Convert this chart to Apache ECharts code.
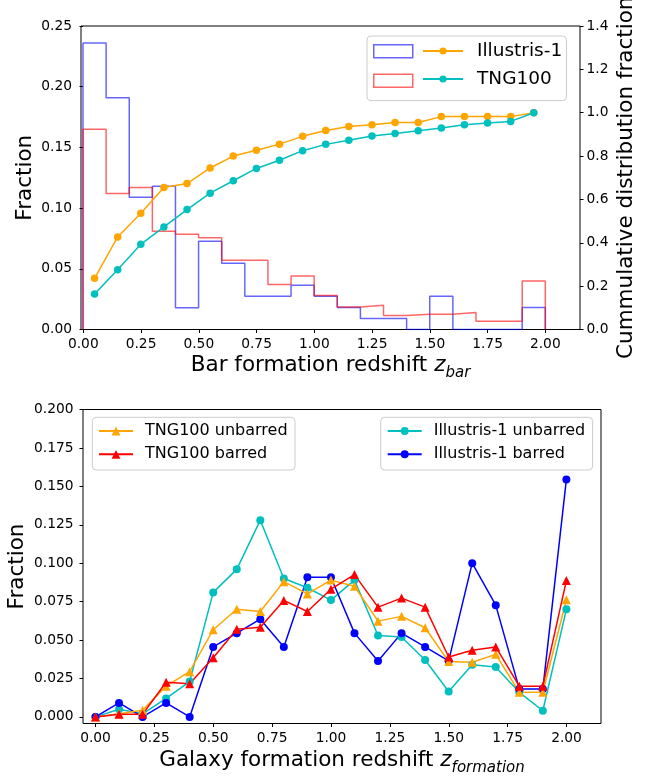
<!DOCTYPE html>
<html>
<head>
<meta charset="utf-8">
<script src="https://cdn.jsdelivr.net/npm/echarts@6/dist/echarts.min.js"></script>
<style>
  html, body { margin: 0; padding: 0; background: #fff; }
  #main { width: 667px; height: 778px; }
</style>
</head>
<body>
<div id="main"></div>
<script>
// ---- top panel: bar formation redshift ----
var zEdges = [0.0, 0.1, 0.2, 0.3, 0.4, 0.5, 0.6, 0.7, 0.8, 0.9, 1.0, 1.1, 1.2, 1.3, 1.4, 1.5, 1.6, 1.7, 1.8, 1.9, 2.0];
var zMid = [0.05, 0.15, 0.25, 0.35, 0.45, 0.55, 0.65, 0.75, 0.85, 0.95, 1.05, 1.15, 1.25, 1.35, 1.45, 1.55, 1.65, 1.75, 1.85, 1.95];
var illHist = [0.236, 0.191, 0.109, 0.118, 0.018, 0.0727, 0.0545, 0.0273, 0.0273, 0.0364, 0.0273, 0.0182, 0.0091, 0.0091, 0, 0.0273, 0, 0, 0, 0.0182];
var tngHist = [0.165, 0.112, 0.117, 0.081, 0.0785, 0.0755, 0.057, 0.057, 0.037, 0.044, 0.028, 0.0186, 0.020, 0.0115, 0.0126, 0.0126, 0.014, 0.0068, 0.0068, 0.040];
var illCum = [0.236, 0.427, 0.536, 0.655, 0.673, 0.745, 0.800, 0.827, 0.855, 0.891, 0.918, 0.936, 0.945, 0.955, 0.955, 0.982, 0.982, 0.982, 0.982, 1.0];
var tngCum = [0.164, 0.276, 0.393, 0.473, 0.553, 0.629, 0.686, 0.743, 0.781, 0.825, 0.854, 0.873, 0.893, 0.904, 0.917, 0.930, 0.945, 0.952, 0.960, 1.0];

// ---- bottom panel: galaxy formation redshift ----
var zForm = [0.0, 0.1, 0.2, 0.3, 0.4, 0.5, 0.6, 0.7, 0.8, 0.9, 1.0, 1.1, 1.2, 1.3, 1.4, 1.5, 1.6, 1.7, 1.8, 1.9, 2.0];
var illUnbarred = [0, 0.005, 0.002, 0.012, 0.023, 0.081, 0.096, 0.128, 0.090, 0.084, 0.076, 0.089, 0.053, 0.052, 0.037, 0.0165, 0.034, 0.0325, 0.016, 0.004, 0.070];
var illBarred = [0, 0.0091, 0, 0.0091, 0, 0.0455, 0.0545, 0.0636, 0.0455, 0.0909, 0.0909, 0.0545, 0.0364, 0.0545, 0.0455, 0.0364, 0.100, 0.0727, 0.0182, 0.0182, 0.1545];
var tngUnbarred = [0, 0.002, 0.0043, 0.020, 0.0294, 0.0567, 0.070, 0.0686, 0.088, 0.080, 0.089, 0.085, 0.0623, 0.0654, 0.058, 0.036, 0.0355, 0.0407, 0.016, 0.016, 0.0762];
var tngBarred = [0, 0.0017, 0.0017, 0.0225, 0.0216, 0.0385, 0.057, 0.0584, 0.0758, 0.0686, 0.0831, 0.0926, 0.0714, 0.0773, 0.0714, 0.039, 0.0433, 0.0455, 0.020, 0.020, 0.0887];

var FONT = 'DejaVu Sans';

function pairs(xs, ys) {
  return ys.map(function (v, i) { return [xs[i], v]; });
}
// outline of a step histogram: up at the first edge, across each bin, down at the last edge
function steps(edges, vals) {
  var d = [[edges[0], 0]];
  vals.forEach(function (v, i) { d.push([edges[i + 1], v]); });
  d.push([edges[edges.length - 1], 0]);
  return d;
}

var tick = { show: true, inside: false, length: 3.5, lineStyle: { color: '#000', width: 1 } };
var noTick = { show: false };
function lbl(digits, margin) {
  return {
    color: '#000', fontSize: 13.8, fontFamily: FONT, margin: margin,
    formatter: function (v) { return Number(v).toFixed(digits); }
  };
}
var nameFont = { color: '#000', fontSize: 21.5, fontFamily: FONT };
var subName = {
  rich: {
    n: { fontSize: 21.5, fontFamily: FONT, color: '#000', lineHeight: 30, verticalAlign: 'middle' },
    z: { fontSize: 21.5, fontFamily: FONT, color: '#000', fontStyle: 'italic', lineHeight: 30, verticalAlign: 'middle' },
    s: { fontSize: 15, fontFamily: FONT, color: '#000', fontStyle: 'italic', lineHeight: 16, verticalAlign: 'bottom' }
  }
};
// hidden helper axis
function hid(gi) { return { gridIndex: gi, type: 'value', show: false, min: 0, max: 1 }; }

var myChart = echarts.init(document.getElementById('main'));
myChart.setOption({
  animation: false,
  backgroundColor: '#fff',
  textStyle: { fontFamily: FONT },
  grid: [
    // 0: top data area (frame)
    { left: 81, top: 26, width: 499, height: 303.5, show: true, borderColor: '#000', borderWidth: 1, outerBoundsMode: 'none' },
    // 1: bottom data area (frame)
    { left: 83, top: 409.5, width: 518, height: 314, show: true, borderColor: '#000', borderWidth: 1, outerBoundsMode: 'none' },
    // 2: top x ticks, 0..2 span
    { left: 83.3, top: 26, width: 462, height: 303.5, outerBoundsMode: 'none' },
    // 3: bottom x ticks, 0..2 span
    { left: 95.5, top: 409.5, width: 471, height: 314, outerBoundsMode: 'none' },
    // 4: bottom y ticks, 0..0.2 span
    { left: 83, top: 409.5, width: 518, height: 307.4, outerBoundsMode: 'none' }
  ],
  xAxis: [
    {
      gridIndex: 0, type: 'value', min: -0.0087, max: 2.15,
      axisLine: { show: false }, splitLine: { show: false }, axisTick: noTick, axisLabel: { show: false },
      name: '{n|Bar formation redshift }{z|z}{s|bar}',
      nameLocation: 'middle', nameGap: 21, nameMoveOverlap: false, nameTextStyle: subName
    },
    {
      gridIndex: 1, type: 'value', min: -0.053, max: 2.147,
      axisLine: { show: false }, splitLine: { show: false }, axisTick: noTick, axisLabel: { show: false },
      name: '{n|Galaxy formation redshift }{z|z}{s|formation}',
      nameLocation: 'middle', nameGap: 22, nameMoveOverlap: false, nameTextStyle: subName
    },
    {
      gridIndex: 2, type: 'value', min: 0, max: 2, interval: 0.25,
      axisLine: { show: false }, splitLine: { show: false }, axisTick: tick, axisLabel: lbl(2, 8)
    },
    {
      gridIndex: 3, type: 'value', min: 0, max: 2, interval: 0.25,
      axisLine: { show: false }, splitLine: { show: false }, axisTick: tick, axisLabel: lbl(2, 8)
    },
    hid(4)
  ],
  yAxis: [
    {
      gridIndex: 0, type: 'value', position: 'left', min: 0, max: 0.25, interval: 0.05,
      axisLine: { show: false }, splitLine: { show: false }, axisTick: tick,
      axisLabel: lbl(2, 9),
      name: 'Fraction', nameLocation: 'middle', nameGap: 44.5, nameMoveOverlap: false,
      nameTextStyle: nameFont
    },
    {
      gridIndex: 0, type: 'value', position: 'right', min: 0, max: 1.4, interval: 0.2,
      axisLine: { show: false }, splitLine: { show: false }, axisTick: tick,
      axisLabel: lbl(1, 6.5),
      name: 'Cummulative distribution fraction', nameLocation: 'middle', nameGap: 35, nameMoveOverlap: false,
      nameTextStyle: nameFont
    },
    {
      gridIndex: 1, type: 'value', position: 'left', min: -0.0043, max: 0.2,
      axisLine: { show: false }, splitLine: { show: false }, axisTick: noTick, axisLabel: { show: false },
      name: 'Fraction', nameLocation: 'middle', nameGap: 54.5, nameMoveOverlap: false,
      nameTextStyle: nameFont
    },
    hid(2),
    hid(3),
    {
      gridIndex: 4, type: 'value', position: 'left', min: 0, max: 0.2, interval: 0.025,
      axisLine: { show: false }, splitLine: { show: false }, axisTick: tick,
      axisLabel: lbl(3, 9.5)
    }
  ],
  legend: [
    {
      // histogram patches, also carries the frame of the top legend
      left: 367, top: 36, orient: 'vertical', selectedMode: false,
      data: [
        { name: 'Illustris-1 hist', icon: 'rect', itemStyle: { color: '#fff', borderColor: 'rgba(0,0,255,0.6)', borderWidth: 1.5 } },
        { name: 'TNG100 hist', icon: 'rect', itemStyle: { color: '#fff', borderColor: 'rgba(255,0,0,0.6)', borderWidth: 1.5 } }
      ],
      itemWidth: 39, itemHeight: 13, itemGap: 15,
      formatter: function () { return ''; },
      textStyle: { fontSize: 8 },
      padding: [8, 153, 12.6, 6],
      backgroundColor: 'rgba(255,255,255,0.8)', borderColor: '#cccccc', borderWidth: 1, borderRadius: 4
    },
    {
      left: 422, top: 41, orient: 'vertical', selectedMode: false, z: 5, padding: 0,
      data: ['Illustris-1', 'TNG100'],
      itemWidth: 40, itemHeight: 9, itemGap: 8,
      textStyle: { color: '#000', fontSize: 18.5, fontFamily: FONT, lineHeight: 20, padding: [0, 0, 0, 9] }
    },
    {
      left: 92.3, top: 417.3, orient: 'vertical', selectedMode: false,
      data: ['TNG100 unbarred', 'TNG100 barred'],
      itemWidth: 34, itemHeight: 11, itemGap: 5.3,
      textStyle: { color: '#000', fontSize: 16, fontFamily: FONT, lineHeight: 18, padding: [0, 0, 0, 7] },
      padding: [4.7, 7.5, 6.7, 5.7],
      backgroundColor: 'rgba(255,255,255,0.8)', borderColor: '#cccccc', borderWidth: 1, borderRadius: 4
    },
    {
      left: 380.7, top: 417.3, orient: 'vertical', selectedMode: false,
      data: ['Illustris-1 unbarred', 'Illustris-1 barred'],
      itemWidth: 34, itemHeight: 10, itemGap: 5.3,
      textStyle: { color: '#000', fontSize: 16, fontFamily: FONT, lineHeight: 18, padding: [0, 0, 0, 7] },
      padding: [4.7, 7.4, 6.7, 6],
      backgroundColor: 'rgba(255,255,255,0.8)', borderColor: '#cccccc', borderWidth: 1, borderRadius: 4
    }
  ],
  series: [
    {
      name: 'Illustris-1 hist', type: 'line', xAxisIndex: 0, yAxisIndex: 0, step: 'start',
      data: steps(zEdges, illHist), symbol: 'none', silent: true,
      lineStyle: { color: 'rgba(0,0,255,0.6)', width: 1.5 }, itemStyle: { color: 'rgba(0,0,255,0.6)' }
    },
    {
      name: 'TNG100 hist', type: 'line', xAxisIndex: 0, yAxisIndex: 0, step: 'start',
      data: steps(zEdges, tngHist), symbol: 'none', silent: true,
      lineStyle: { color: 'rgba(255,0,0,0.6)', width: 1.5 }, itemStyle: { color: 'rgba(255,0,0,0.6)' }
    },
    {
      name: 'Illustris-1', type: 'line', xAxisIndex: 0, yAxisIndex: 1,
      data: pairs(zMid, illCum), symbol: 'circle', symbolSize: 7.5,
      lineStyle: { color: '#FFA500', width: 1.5 }, itemStyle: { color: '#FFA500' }
    },
    {
      name: 'TNG100', type: 'line', xAxisIndex: 0, yAxisIndex: 1,
      data: pairs(zMid, tngCum), symbol: 'circle', symbolSize: 7.5,
      lineStyle: { color: '#00BFBF', width: 1.5 }, itemStyle: { color: '#00BFBF' }
    },
    {
      name: 'Illustris-1 unbarred', type: 'line', xAxisIndex: 1, yAxisIndex: 2,
      data: pairs(zForm, illUnbarred), symbol: 'circle', symbolSize: 8,
      lineStyle: { color: '#00BFBF', width: 1.5 }, itemStyle: { color: '#00BFBF' }
    },
    {
      name: 'Illustris-1 barred', type: 'line', xAxisIndex: 1, yAxisIndex: 2,
      data: pairs(zForm, illBarred), symbol: 'circle', symbolSize: 8,
      lineStyle: { color: '#0000FF', width: 1.5 }, itemStyle: { color: '#0000FF' }
    },
    {
      name: 'TNG100 unbarred', type: 'line', xAxisIndex: 1, yAxisIndex: 2,
      data: pairs(zForm, tngUnbarred), symbol: 'triangle', symbolSize: 9,
      lineStyle: { color: '#FFA500', width: 1.5 }, itemStyle: { color: '#FFA500' }
    },
    {
      name: 'TNG100 barred', type: 'line', xAxisIndex: 1, yAxisIndex: 2,
      data: pairs(zForm, tngBarred), symbol: 'triangle', symbolSize: 9,
      lineStyle: { color: '#FF0000', width: 1.5 }, itemStyle: { color: '#FF0000' }
    }
  ]
});
</script>
</body>
</html>
